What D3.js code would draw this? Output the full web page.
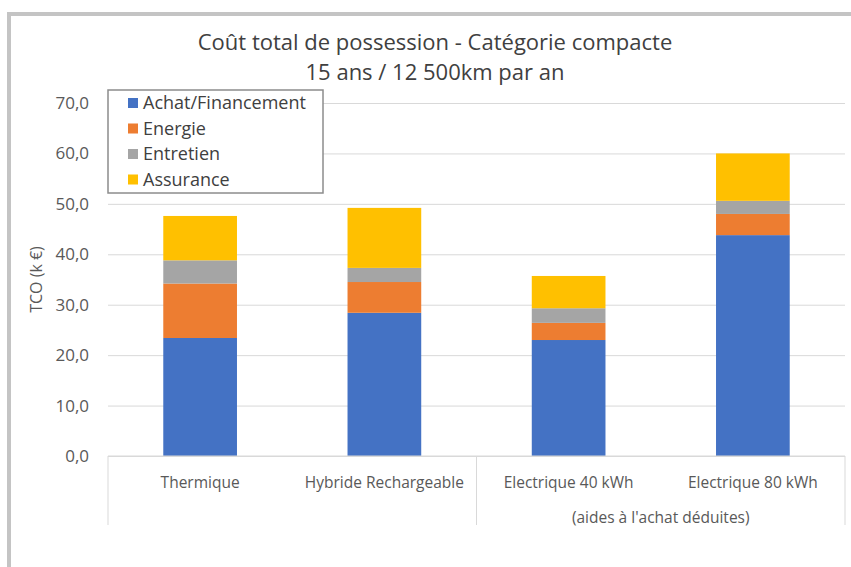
<!DOCTYPE html>
<html>
<head>
<meta charset="utf-8">
<script src="https://cdn.jsdelivr.net/npm/d3@7"></script>
<style>
  body { margin: 0; background: #fff; }
  text { font-family: "Open Sans", sans-serif; }
  .y-axis .domain { display: none; }
  .y-axis .tick line { stroke: #d9d9d9; }
  .y-axis .tick text { fill: #595959; font-size: 17px; }
</style>
</head>
<body>
<div id="chart"></div>
<script>
const svgWidth = 851;
const svgHeight = 567;

const margin = { top: 103, right: 3, bottom: 111, left: 108 };
const width = svgWidth - margin.left - margin.right;
const height = svgHeight - margin.top - margin.bottom;

// data (k€)
const categories = ["Thermique", "Hybride Rechargeable", "Electrique 40 kWh", "Electrique 80 kWh"];
const seriesNames = ["Achat/Financement", "Energie", "Entretien", "Assurance"];
const achat = [23.4, 28.4, 23.0, 43.8];
const energie = [10.8, 6.1, 3.4, 4.2];
const entretien = [4.6, 2.8, 2.9, 2.6];
const assurance = [8.8, 11.9, 6.4, 9.4];
const yTicks = [0, 10, 20, 30, 40, 50, 60, 70];
const groupLabel = "(aides à l'achat déduites)";
const colors = ["#4472c4", "#ed7d31", "#a5a5a5", "#ffc000"];

const rows = categories.map((c, i) => ({
  cat: c,
  "Achat/Financement": achat[i],
  "Energie": energie[i],
  "Entretien": entretien[i],
  "Assurance": assurance[i]
}));

const svg = d3.select("#chart")
  .append("svg")
  .attr("width", svgWidth)
  .attr("height", svgHeight);

// grey frame (top + left edges of the screenshot)
svg.append("line").attr("x1", 7).attr("x2", svgWidth).attr("y1", 14).attr("y2", 14)
  .attr("stroke", "#c4c4c4").attr("stroke-width", 4);
svg.append("line").attr("x1", 9).attr("x2", 9).attr("y1", 12).attr("y2", svgHeight)
  .attr("stroke", "#c4c4c4").attr("stroke-width", 4);

// titles
svg.append("text")
  .attr("x", 435).attr("y", 50)
  .attr("text-anchor", "middle")
  .attr("font-size", "22px")
  .attr("fill", "#404040")
  .text("Coût total de possession - Catégorie compacte");
svg.append("text")
  .attr("x", 435).attr("y", 80)
  .attr("text-anchor", "middle")
  .attr("font-size", "22px")
  .attr("fill", "#404040")
  .text("15 ans / 12 500km par an");

const chartGroup = svg.append("g")
  .attr("transform", `translate(${margin.left}, ${margin.top})`);

const xScale = d3.scaleBand()
  .domain(categories)
  .range([0, width - 3])
  .paddingInner(0.6)
  .paddingOuter(0.3);

const yScale = d3.scaleLinear()
  .domain([0, 70])
  .range([353, 0]);

// y axis + gridlines
const leftAxis = d3.axisLeft(yScale)
  .tickValues(yTicks)
  .tickSize(-(width - 3))
  .tickPadding(19)
  .tickFormat(d => d3.format(".1f")(d).replace(".", ","));

chartGroup.append("g")
  .attr("class", "y-axis")
  .call(leftAxis);

// y title
chartGroup.append("text")
  .attr("transform", "rotate(-90)")
  .attr("x", -yScale(35))
  .attr("y", -66)
  .attr("text-anchor", "middle")
  .attr("font-size", "16px")
  .attr("fill", "#595959")
  .text("TCO (k €)");

// stacked bars
const stacked = d3.stack().keys(seriesNames)(rows);

chartGroup.selectAll("g.layer")
  .data(stacked)
  .enter()
  .append("g")
  .attr("class", "layer")
  .attr("fill", (d, i) => colors[i])
  .selectAll("rect")
  .data(d => d)
  .enter()
  .append("rect")
  .attr("x", d => xScale(d.data.cat))
  .attr("width", xScale.bandwidth())
  .attr("y", d => yScale(d[1]))
  .attr("height", d => yScale(d[0]) - yScale(d[1]));

// category axis: separators + labels
const y0 = yScale(0);
const step = xScale.step();
const axisRight = width - 3;
const sepX = [0, xScale(categories[2]) - step * xScale.paddingInner() / 2, axisRight];
chartGroup.selectAll("line.sep")
  .data(sepX)
  .enter()
  .append("line")
  .attr("class", "sep")
  .attr("x1", d => d).attr("x2", d => d)
  .attr("y1", y0).attr("y2", y0 + 69)
  .attr("stroke", "#d9d9d9");

chartGroup.append("line")
  .attr("x1", 0).attr("x2", axisRight)
  .attr("y1", y0).attr("y2", y0)
  .attr("stroke", "#d9d9d9");

chartGroup.selectAll("text.cat")
  .data(categories)
  .enter()
  .append("text")
  .attr("class", "cat")
  .attr("x", d => xScale(d) + xScale.bandwidth() / 2)
  .attr("y", y0 + 32)
  .attr("text-anchor", "middle")
  .attr("font-size", "15.5px")
  .attr("fill", "#595959")
  .text(d => d);

chartGroup.append("text")
  .attr("x", (xScale(categories[2]) + xScale(categories[3]) + xScale.bandwidth()) / 2)
  .attr("y", y0 + 67)
  .attr("text-anchor", "middle")
  .attr("font-size", "15.5px")
  .attr("fill", "#595959")
  .text(groupLabel);

// legend
const legend = svg.append("g")
  .attr("transform", "translate(108, 90)");

legend.append("rect")
  .attr("width", 215)
  .attr("height", 103)
  .attr("fill", "#fff")
  .attr("stroke", "#8c8c8c")
  .attr("stroke-width", 1.5);

const items = legend.selectAll("g.item")
  .data(seriesNames)
  .enter()
  .append("g")
  .attr("class", "item")
  .attr("transform", (d, i) => `translate(20, ${13 + i * 25.5})`);

items.append("rect")
  .attr("x", 0).attr("y", -5)
  .attr("width", 10).attr("height", 10)
  .attr("fill", (d, i) => colors[i]);

items.append("text")
  .attr("x", 15)
  .attr("y", 6)
  .attr("font-size", "18px")
  .attr("fill", "#404040")
  .text(d => d);
</script>
</body>
</html>
